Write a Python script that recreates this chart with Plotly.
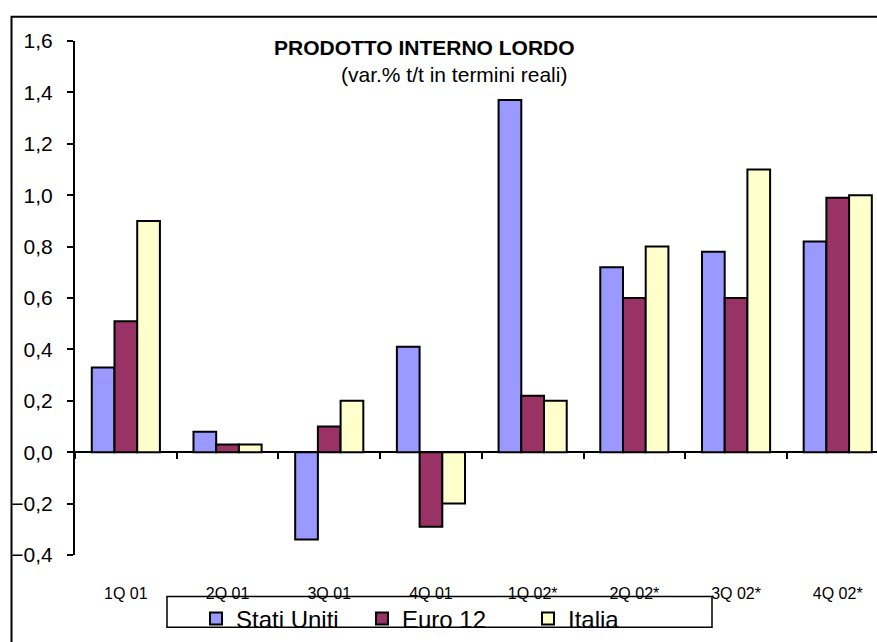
import plotly.graph_objects as go

categories = ["1Q 01", "2Q 01", "3Q 01", "4Q 01", "1Q 02*", "2Q 02*", "3Q 02*", "4Q 02*"]
stati_uniti = [0.33, 0.08, -0.34, 0.41, 1.37, 0.72, 0.78, 0.82]
euro_12 = [0.51, 0.03, 0.10, -0.29, 0.22, 0.60, 0.60, 0.99]
italia = [0.90, 0.03, 0.20, -0.20, 0.20, 0.80, 1.10, 1.00]

series = [
    ("Stati Uniti", stati_uniti, "#9999FF"),
    ("Euro 12", euro_12, "#993366"),
    ("Italia", italia, "#FFFFCC"),
]

FONT = "Liberation Sans, Arial, sans-serif"

W, H = 877, 642
L, T, B = 75, 41, 81
PW = W - L          # plot width (802)
PH = H - T - B      # plot height (520)


def px_x(x):  # reference-image pixel -> paper x
    return (x - L) / PW


def px_y(y):  # reference-image pixel -> paper y
    return (H - B - y) / PH


fig = go.Figure()
for name, vals, col in series:
    fig.add_trace(go.Bar(
        x=categories, y=vals, name=name,
        marker=dict(color=col, line=dict(color="black", width=2)),
        xaxis="x", yaxis="y",
    ))

# helper trace for the tick axis drawn on the zero line
fig.add_trace(go.Scatter(x=categories, y=[None] * len(categories),
                         xaxis="x2", yaxis="y", showlegend=False,
                         hoverinfo="skip", mode="markers"))

fig.update_layout(
    width=W, height=H,
    margin=dict(l=L, r=0, t=T, b=B),
    paper_bgcolor="white", plot_bgcolor="white",
    separators=",.",
    barmode="group", bargap=0.33, bargroupgap=0,
    font=dict(family=FONT, color="black"),
    showlegend=True,
    xaxis=dict(
        type="category", range=[-0.5, 7.386],
        showline=False, ticks="", showgrid=False, zeroline=False,
        tickfont=dict(size=16, family=FONT, color="black"),
        ticklabelstandoff=27,
    ),
    xaxis2=dict(
        type="category", range=[-0.5, 7.386], overlaying="x",
        anchor="free", position=0.2, side="bottom",
        showline=False, showgrid=False, zeroline=False,
        ticks="outside", tickson="boundaries", ticklen=6, tickwidth=2,
        tickcolor="black", showticklabels=False,
    ),
    yaxis=dict(
        range=[-0.4, 1.6], dtick=0.2, tick0=0, tickformat=".1f",
        showline=True, linecolor="black", linewidth=2,
        ticks="outside", ticklen=6, tickwidth=2, tickcolor="black",
        showgrid=False,
        zeroline=True, zerolinecolor="black", zerolinewidth=2,
        tickfont=dict(size=21, family=FONT, color="black"),
        ticklabelstandoff=10,
    ),
    legend=dict(
        orientation="h", x=px_x(196), y=px_y(603), xanchor="left", yanchor="top",
        borderwidth=0, bgcolor="rgba(0,0,0,0)",
        font=dict(size=24, family=FONT, color="black"),
        entrywidth=121, entrywidthmode="pixels",
        itemclick=False,
    ),
    shapes=[
        dict(type="rect", xref="paper", yref="paper",
             x0=px_x(11.5), x1=1.05, y0=-0.3, y1=px_y(16.5),
             line=dict(color="black", width=2), fillcolor="rgba(0,0,0,0)",
             layer="below"),
        dict(type="rect", xref="paper", yref="paper",
             x0=px_x(167), x1=px_x(712), y0=px_y(634), y1=px_y(603),
             line=dict(color="black", width=1.5), fillcolor="rgba(0,0,0,0)",
             layer="above"),
    ],
    annotations=[
        dict(text="<b>PRODOTTO INTERNO LORDO</b>", xref="paper", yref="paper",
             x=px_x(424), y=px_y(47.5), xanchor="center", yanchor="middle",
             showarrow=False, font=dict(size=21, family=FONT, color="black")),
        dict(text="(var.% t/t in termini reali)", xref="paper", yref="paper",
             x=px_x(454), y=px_y(75), xanchor="center", yanchor="middle",
             showarrow=False, font=dict(size=21, family=FONT, color="black")),
    ],
)

fig.write_html(
    "out.html",
    config={"displayModeBar": False},
    post_script="document.body.style.margin='0px';document.body.style.overflow='hidden';",
)
